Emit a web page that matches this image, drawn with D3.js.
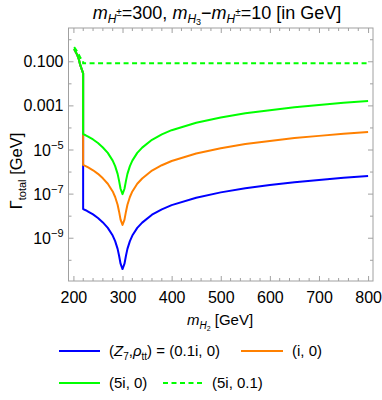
<!DOCTYPE html>
<html><head><meta charset="utf-8">
<script src="https://cdn.jsdelivr.net/npm/d3@7"></script>
<style>body{margin:0;background:#fff} text{font-family:"Liberation Sans",Arial,sans-serif;fill:#000}</style>
</head><body><svg id="c" width="382" height="400"></svg>
<script>
// ---- data ----
// shared part below the threshold (all solid curves coincide)
const massPre = [201.5, 205, 208, 211, 214, 217, 219.8];
const gammaPre = [0.38, 0.27, 0.20, 0.13, 0.07, 0.045, 0.03];
// after the threshold
const massPost = [219.8, 225, 230, 240, 250, 260, 270, 280, 285, 290, 293, 296, 300, 304, 307, 310, 315, 320, 330, 340, 360, 380, 400, 450, 500, 550, 600, 650, 700, 750, 800];
const blueZ7_01i = [2.1e-8, 1.86e-8, 1.62e-8, 1.2e-8, 8.3e-9, 5.2e-9, 2.95e-9, 1.32e-9, 7.4e-10, 3.3e-10, 1.6e-10, 7e-11, 4e-11, 7e-11, 1.6e-10, 3.3e-10, 7.4e-10, 1.32e-9, 2.95e-9, 5.1e-9, 1.17e-8, 2.04e-8, 3.16e-8, 6.9e-8, 1.2e-7, 1.86e-7, 2.57e-7, 3.47e-7, 4.37e-7, 5.5e-7, 6.6e-7];
const orangeZ7_i = [2.1e-6, 1.86e-6, 1.62e-6, 1.2e-6, 8.3e-7, 5.2e-7, 2.95e-7, 1.32e-7, 7.4e-8, 3.3e-8, 1.6e-8, 7e-9, 4e-9, 7e-9, 1.6e-8, 3.3e-8, 7.4e-8, 1.32e-7, 2.95e-7, 5.1e-7, 1.17e-6, 2.04e-6, 3.16e-6, 6.9e-6, 1.2e-5, 1.86e-5, 2.57e-5, 3.47e-5, 4.37e-5, 5.5e-5, 6.6e-5];
const greenZ7_5i = [5.25e-5, 4.65e-5, 4.05e-5, 3.0e-5, 2.08e-5, 1.3e-5, 7.4e-6, 3.3e-6, 1.85e-6, 8.3e-7, 4.0e-7, 1.75e-7, 1.0e-7, 1.75e-7, 4.0e-7, 8.3e-7, 1.85e-6, 3.3e-6, 7.4e-6, 1.28e-5, 2.9e-5, 5.1e-5, 7.9e-5, 1.72e-4, 3.0e-4, 4.65e-4, 6.4e-4, 8.7e-4, 1.09e-3, 1.38e-3, 1.65e-3];
// dashed (5i, 0.1)
const massDashed = [201.5, 205, 208, 211, 214, 217, 219.8, 219.8, 300, 400, 500, 600, 700, 800];
const greenDashed = [0.46, 0.355, 0.285, 0.215, 0.155, 0.13, 0.115, 0.085, 0.085, 0.085, 0.085, 0.085, 0.085, 0.085];

const xMajor = [200, 300, 400, 500, 600, 700, 800];
const xTickLabels = ["200", "300", "400", "500", "600", "700", "800"];
const yDecades = [1, 0.1, 0.01, 1e-3, 1e-4, 1e-5, 1e-6, 1e-7, 1e-8, 1e-9, 1e-10, 1e-11];
const yLabelled = [0.1, 1e-3, 1e-5, 1e-7, 1e-9];
const yTickBase = ["0.100", "0.001", "10", "10", "10"];
const yTickExp = ["", "", "−5", "−7", "−9"];

const legendItems = [
  {key: "blue", color: "#0000ff", dash: null},
  {key: "orange", color: "#ff8000", dash: null},
  {key: "green", color: "#00ff00", dash: null},
  {key: "dashed", color: "#00ff00", dash: "5,3.5"}
];

// ---- layout ----
const L = 68.5, R = 373, T = 28, B = 281;
const svg = d3.select("#c");
const x = d3.scaleLinear().domain([190, 810]).range([L, R]);
const y = d3.scaleLog().domain([1.15e-11, 3.4]).range([B, T]);
const frame = "#a0a0a0";

const g = svg.append("g");
g.append("rect").attr("x", L).attr("y", T).attr("width", R - L).attr("height", B - T)
  .attr("fill", "none").attr("stroke", frame).attr("stroke-width", 1);

// x ticks
const xMinor = d3.range(200, 811, 20).filter(v => v % 100 !== 0);
const axB = d3.axisBottom(x).tickValues(xMajor).tickSize(-5).tickPadding(11).tickFormat((d, i) => xTickLabels[i]);
const gb = g.append("g").attr("transform", `translate(0,${B})`).call(axB);
gb.select(".domain").remove();
gb.selectAll("line").attr("stroke", frame);
gb.selectAll("text").attr("font-size", 16).attr("font-family", "Liberation Sans, Arial, sans-serif").attr("fill", "#000");
const axT = d3.axisTop(x).tickValues(xMajor).tickSize(-5).tickFormat("");
const gt = g.append("g").attr("transform", `translate(0,${T})`).call(axT);
gt.select(".domain").remove(); gt.selectAll("line").attr("stroke", frame);
xMinor.forEach(v => {
  g.append("line").attr("x1", x(v)).attr("x2", x(v)).attr("y1", B).attr("y2", B - 3).attr("stroke", frame);
  g.append("line").attr("x1", x(v)).attr("x2", x(v)).attr("y1", T).attr("y2", T + 3).attr("stroke", frame);
});

// y ticks
yDecades.forEach(v => {
  if (y(v) < T || y(v) > B) return;
  const len = yLabelled.includes(v) ? 5 : 3;
  g.append("line").attr("x1", L).attr("x2", L + len).attr("y1", y(v)).attr("y2", y(v)).attr("stroke", frame);
  g.append("line").attr("x1", R).attr("x2", R - len).attr("y1", y(v)).attr("y2", y(v)).attr("stroke", frame);
});
yLabelled.forEach((v, i) => {
  const t = g.append("text").attr("x", L - 5).attr("y", y(v) + 5.5).attr("text-anchor", "end").attr("font-size", 16);
  if (yTickExp[i]) {
    t.append("tspan").text(yTickBase[i]);
    t.append("tspan").attr("dy", -7).attr("font-size", 11).text(yTickExp[i]);
  } else t.text(yTickBase[i]);
});

// curves
svg.append("clipPath").attr("id", "pc").append("rect").attr("x", L).attr("y", T).attr("width", R - L).attr("height", B - T);
const line = d3.line().x(d => x(d[0])).y(d => y(d[1]));
function seriesPath(post) {
  const pre = massPre.map((m, i) => [m, gammaPre[i]]);
  const p2 = massPost.map((m, i) => [m, post[i]]);
  return line(pre) + line(p2).replace(/^M/, "L");
}
const cg = svg.append("g").attr("clip-path", "url(#pc)");
[[blueZ7_01i, "#0000ff"], [orangeZ7_i, "#ff8000"], [greenZ7_5i, "#00ff00"]].forEach(([vals, col]) => {
  cg.append("path").attr("d", seriesPath(vals)).attr("fill", "none").attr("stroke", col)
    .attr("stroke-width", 2).attr("stroke-linejoin", "round");
});
cg.append("path").attr("d", line(massDashed.map((m, i) => [m, greenDashed[i]])))
  .attr("fill", "none").attr("stroke", "#00ff00").attr("stroke-width", 2).attr("stroke-dasharray", "5,3.5");

// title
const title = svg.append("text").attr("x", 217).attr("y", 19).attr("text-anchor", "middle").attr("font-size", 18);
function sym(t, parts) {
  parts.forEach(p => {
    const s = t.append("tspan").text(p.t);
    if (p.it) s.attr("font-style", "italic");
    if (p.fs) s.attr("font-size", p.fs);
    if (p.dy) s.attr("dy", p.dy);
  });
}
sym(title, [
  {t: "m", it: true}, {t: "H", it: true, fs: 12, dy: 4}, {t: "±", fs: 10, dy: -7}, {t: "=300, ", dy: 3},
  {t: "m", it: true}, {t: "H", it: true, fs: 12, dy: 4}, {t: "3", fs: 9, dy: 2}, {t: "−", dy: -6},
  {t: "m", it: true}, {t: "H", it: true, fs: 12, dy: 4}, {t: "±", fs: 10, dy: -7}, {t: "=10 [in GeV]", dy: 3}
]);

// axis labels
const xl = svg.append("text").attr("x", 220).attr("y", 325).attr("text-anchor", "middle").attr("font-size", 15);
sym(xl, [{t: "m", it: true}, {t: "H", it: true, fs: 10, dy: 4}, {t: "2", fs: 7, dy: 2}, {t: " [GeV]", dy: -6}]);
const yl = svg.append("text").attr("transform", "translate(22,171) rotate(-90)").attr("text-anchor", "middle").attr("font-size", 16.5);
sym(yl, [{t: "Γ"}, {t: "total", fs: 11, dy: 4}, {t: " [GeV]", dy: -4}]);

// legend
const lg = svg.append("g");
function legLine(x0, x1, yy, col, dash) {
  const l = lg.append("line").attr("x1", x0).attr("x2", x1).attr("y1", yy).attr("y2", yy).attr("stroke", col).attr("stroke-width", 2);
  if (dash) l.attr("stroke-dasharray", dash);
}
legLine(59, 100, 351, legendItems[0].color, null);
const t1 = lg.append("text").attr("x", 109).attr("y", 356).attr("font-size", 15);
sym(t1, [{t: "("}, {t: "Z", it: true}, {t: "7", fs: 10, dy: 4}, {t: ",", dy: -4}, {t: "ρ", it: true}, {t: "tt", fs: 10, dy: 4}, {t: ") = (0.1i, 0)", dy: -4}]);
legLine(241, 283, 351, legendItems[1].color, null);
lg.append("text").attr("x", 292).attr("y", 356).attr("font-size", 15).text("(i, 0)");
legLine(59, 100, 383, legendItems[2].color, null);
lg.append("text").attr("x", 109).attr("y", 388).attr("font-size", 15).text("(5i, 0)");
legLine(163, 202, 383, legendItems[3].color, legendItems[3].dash);
lg.append("text").attr("x", 212).attr("y", 388).attr("font-size", 15).text("(5i, 0.1)");
</script></body></html>
